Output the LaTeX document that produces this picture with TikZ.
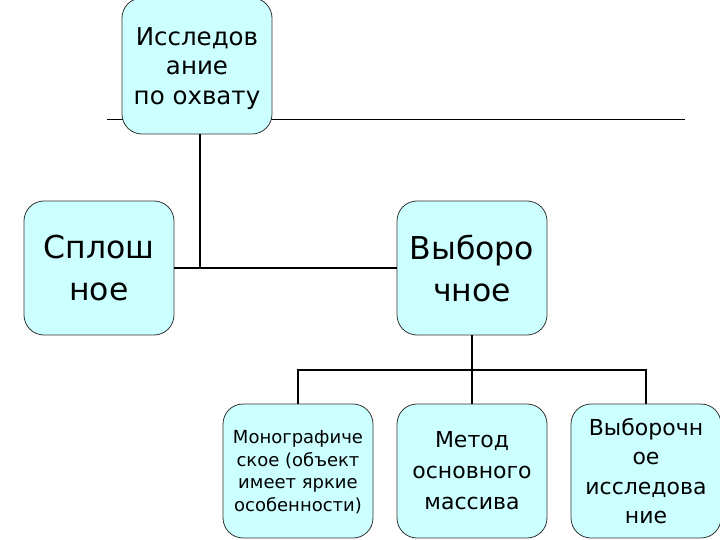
\documentclass[tikz,border=0pt]{standalone}
\usepackage{fontspec}
\setmainfont{DejaVu Sans}
\usepackage{tikz}
\usetikzlibrary{positioning,calc}
\definecolor{boxfill}{HTML}{CCFFFF}
\definecolor{boxline}{HTML}{333333}

\begin{document}
\begin{tikzpicture}[
  x=1pt, y=-1pt,
  unit/.style={rectangle, rounded corners=20pt, draw=boxline, line width=0.8pt, fill=boxfill,
    minimum width=150pt, minimum height=134pt, inner sep=2pt, align=center},
  link/.style={line width=2pt, draw=black}
]
  \useasboundingbox (0,0) rectangle (720,540);

  % Rule behind the top box
  \coordinate (ruleL) at (107,120);
  \coordinate (ruleR) at (685,120);
  \draw[line width=1pt] (ruleL) -- (ruleR);

  \node[unit, minimum height=136pt, text depth=-4pt, font=\fontsize{24.5}{29.5}\selectfont] (scope) at (197,66) {Исследов\\ание\\по охвату};
  \node[unit, font=\fontsize{31.5}{42}\selectfont] (full) at (99,268) {Сплош\\ное};
  \node[unit, font=\fontsize{31.5}{42}\selectfont] (sample) at (472,268) {Выборо\\чное};
  \node[unit, text depth=-8pt, font=\fontsize{18}{22.5}\selectfont] (mono) at (298,471) {Монографиче\\ское (объект\\имеет яркие\\особенности)};
  \node[unit, font=\fontsize{22}{31}\selectfont] (mass) at (472,471) {Метод\\основного\\массива};
  \node[unit, text depth=-16pt, font=\fontsize{22}{29.5}\selectfont] (selective) at (646,471) {Выборочн\\ое\\исследова\\ние};

  % Connectors
  \draw[link] ([xshift=3pt]scope.south) |- (sample.west);
  \draw[link] (full.east) -- (sample.west);
  \coordinate (fork) at ($(sample.south)!0.5!(mass.north)$);
  \draw[link] (sample.south) -- (mass.north);
  \draw[link] (mono.north) |- (fork) -| (selective.north);
\end{tikzpicture}
\end{document}
